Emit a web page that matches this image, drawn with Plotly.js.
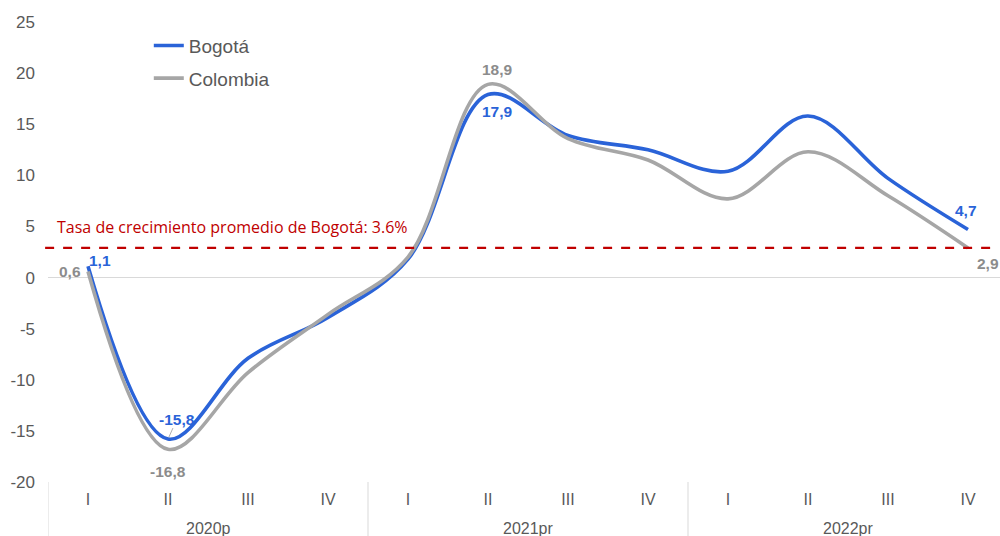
<!DOCTYPE html>
<html>
<head>
<meta charset="utf-8">
<script src="https://cdn.plot.ly/plotly-3.0.1.min.js"></script>
<style>
html,body{margin:0;padding:0;overflow:hidden;background:#fff;}
#chart{width:1010px;height:536px;}
</style>
</head>
<body>
<div id="chart"></div>
<script>
const years = ["2020p","2020p","2020p","2020p","2021pr","2021pr","2021pr","2021pr","2022pr","2022pr","2022pr","2022pr"];
const quarters = ["I","II","III","IV","I","II","III","IV","I","II","III","IV"];
const bogota = [1.1, -15.8, -7.9, -3.9, 1.8, 17.9, 13.9, 12.5, 10.4, 15.8, 9.7, 4.7];
const colombia = [0.6, -16.8, -9.3, -3.6, 2.0, 18.9, 13.6, 11.5, 7.7, 12.3, 8.0, 2.9];
const avgLineValue = 2.9;
const avgLabel = "Tasa de crecimiento promedio de Bogotá: 3.6%";
const yTicks = [-20, -15, -10, -5, 0, 5, 10, 15, 20, 25];

const BLUE = "#2a63d8";
const GRAY = "#a6a6a6";
const BLUE_T = "#2a63d8";
const GRAY_T = "#8c8c8c";
const RED = "#c00000";

function fmt(v){ return v.toFixed(1).replace(".", ","); }

// unique category keys (year + quarter), shown with quarter text only
const cats = years.map((y,i)=>y+" "+quarters[i]);

const traces = [
  {x:cats, y:bogota, name:"Bogotá", type:"scatter", mode:"lines",
   line:{color:BLUE, width:3.6, shape:"spline", smoothing:1}, legendgroup:"a"},
  {x:cats, y:colombia, name:"Colombia", type:"scatter", mode:"lines",
   line:{color:GRAY, width:3.6, shape:"spline", smoothing:1}, legendgroup:"b"}
];

const labelFont = (c)=>({family:"Liberation Sans, Arial, sans-serif", size:15.5, color:c});
// [series, index, xshift, yshift, color]
const labelSpec = [
  [bogota, 0, 12, 6, BLUE_T],
  [colombia, 0, -18, 0, GRAY_T],
  [colombia, 1, 0, -22, GRAY_T],
  [colombia, 5, 9, 15, GRAY_T],
  [bogota, 5, 9, -17, BLUE_T],
  [bogota, 11, -2, 19, BLUE_T],
  [colombia, 11, 20, -16, GRAY_T]
];
const annotations = labelSpec.map(s=>({
  xref:"x", yref:"y", x:cats[s[1]], y:s[0][s[1]], text:"<b>"+fmt(s[0][s[1]])+"</b>",
  showarrow:false, xshift:s[2], yshift:s[3], font:labelFont(s[4])
}));
// Bogotá trough label with leader line
annotations.push({
  xref:"x", yref:"y", x:cats[1], y:bogota[1], text:"<b>"+fmt(bogota[1])+"</b>",
  showarrow:true, arrowhead:0, arrowwidth:0.8, arrowcolor:"#999", ax:9, ay:-20, standoff:2,
  borderpad:0, font:labelFont(BLUE_T)
});
annotations.push({
  xref:"paper", yref:"y", x:0.007, y:avgLineValue, xanchor:"left", yanchor:"bottom", yshift:8,
  text:avgLabel, showarrow:false,
  font:{family:"Open Sans, sans-serif", size:16, color:RED}
});

// year group labels and dividers, derived from the years array
const groups = [];
years.forEach((y,i)=>{
  if(!groups.length || groups[groups.length-1].name!==y) groups.push({name:y, start:i, end:i});
  else groups[groups.length-1].end = i;
});
groups.forEach(g=>{
  annotations.push({xref:"x", yref:"paper", x:(g.start+g.end)/2, y:0, yanchor:"middle", yshift:-46,
    text:g.name, showarrow:false, font:{size:16, color:"#595959"}});
});
const shapes = [{type:"line", xref:"paper", yref:"y", x0:-0.003, x1:0.984, y0:avgLineValue, y1:avgLineValue,
           line:{color:RED, width:2.2, dash:"dash"}}];
const bounds = [groups[0].start-0.5].concat(groups.map(g=>g.end+0.5));
bounds.forEach(b=>{
  shapes.push({type:"line", xref:"x", yref:"paper", x0:b, x1:b, y0:0, y1:-0.2,
    line:{color:"#d9d9d9", width:1}});
});

const layout = {
  width:1010, height:536,
  margin:{l:48, r:2, t:22, b:54},
  paper_bgcolor:"#fff", plot_bgcolor:"#fff",
  font:{family:"Liberation Sans, Arial, sans-serif", size:16, color:"#595959"},
  showlegend:true,
  legend:{x:0.105, y:0.99, xanchor:"left", yanchor:"top", bgcolor:"rgba(0,0,0,0)",
          font:{size:19, color:"#595959"}, traceorder:"grouped", tracegroupgap:5},
  xaxis:{type:"category", range:[-0.5, cats.length-0.5], tickvals:cats, ticktext:quarters,
         showgrid:false, zeroline:false, showline:false, ticks:"", ticklabelstandoff:6,
         tickfont:{size:16, color:"#595959"}},
  yaxis:{range:[-20,25], tickvals:yTicks, ticktext:yTicks.map(String), showgrid:false,
         zeroline:true, zerolinecolor:"#d9d9d9", zerolinewidth:1.5, showline:false,
         ticks:"", ticklabelstandoff:12, tickfont:{size:17, color:"#595959"}},
  shapes:shapes,
  annotations:annotations
};
Plotly.newPlot("chart", traces, layout, {displayModeBar:false, staticPlot:true});
</script>
</body>
</html>
